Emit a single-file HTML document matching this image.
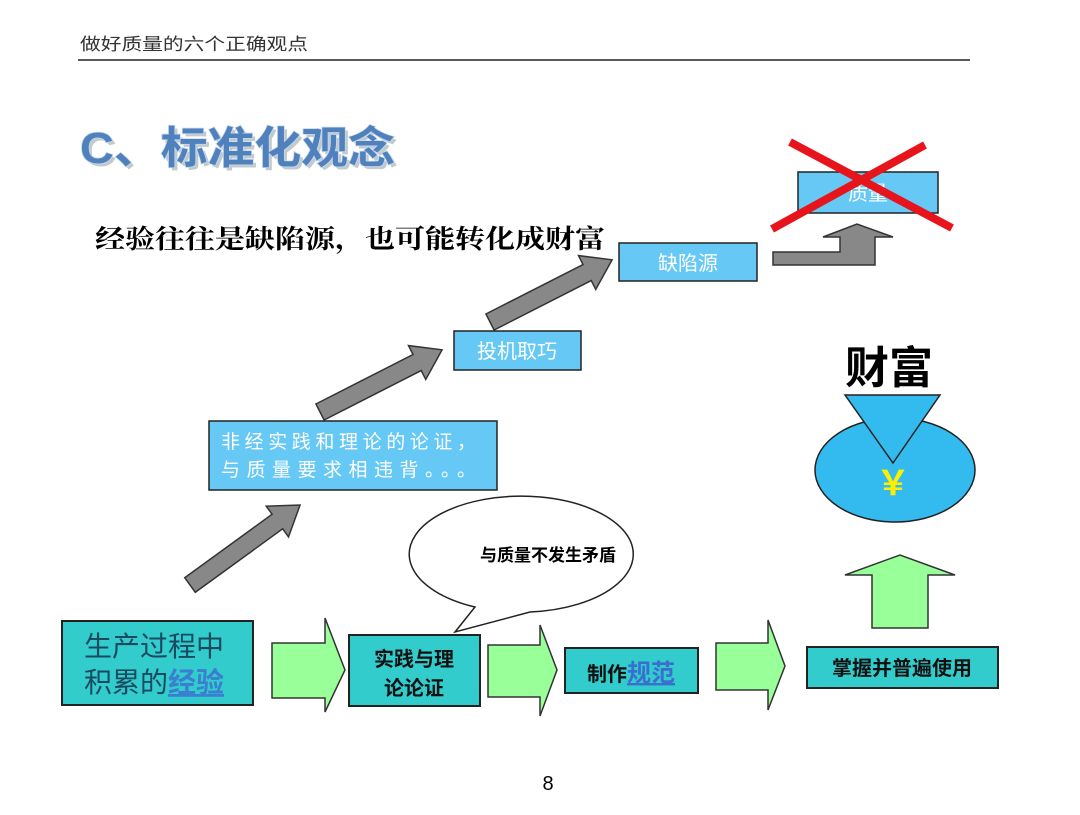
<!DOCTYPE html>
<html><head><meta charset="utf-8"><style>
html,body{margin:0;padding:0;background:#fff;}
svg text{font-family:"Liberation Sans","Noto Sans CJK SC",sans-serif;}
</style></head><body>
<svg width="1080" height="810" viewBox="0 0 1080 810" xmlns="http://www.w3.org/2000/svg">
<rect width="1080" height="810" fill="#fff"/>
<text x="80" y="50" font-size="17" fill="#333" textLength="228" lengthAdjust="spacingAndGlyphs">做好质量的六个正确观点</text>
<line x1="78" y1="60" x2="970" y2="60" stroke="#222" stroke-width="1.5"/>
<!-- title -->
<text x="83" y="166" font-size="44" font-weight="bold" fill="#9aa" opacity="0.6" textLength="315" lengthAdjust="spacingAndGlyphs">C、标准化观念</text>
<text x="80" y="163" font-size="44" font-weight="bold" fill="#4f81bd" stroke="#c8d8ee" stroke-width="1.5" paint-order="stroke" textLength="315" lengthAdjust="spacingAndGlyphs">C、标准化观念</text>
<text x="95" y="248" font-size="26" font-weight="bold" fill="#000" style="font-family:'Liberation Serif','Noto Serif CJK SC',serif" textLength="510" lengthAdjust="spacingAndGlyphs">经验往往是缺陷源，也可能转化成财富</text>

<!-- gray diagonal arrows -->
<g fill="#888" stroke="#333" stroke-width="1.5">
<polygon transform="translate(190,585) rotate(-36)" points="0,-9 108,-9 108,-19 136,0 108,19 108,9 0,9"/>
<polygon transform="translate(320,412) rotate(-27)" points="0,-9 109,-9 109,-19 137,0 109,19 109,9 0,9"/>
<polygon transform="translate(490,322) rotate(-27)" points="0,-9 109,-9 109,-19 137,0 109,19 109,9 0,9"/>
<polygon points="773,252 840,252 840,237 823,237 857,224 893,237 875,237 875,265 773,265"/>
</g>

<!-- blue boxes -->
<g fill="#66c8f5" stroke="#222" stroke-width="1.5">
<rect x="798" y="172" width="140" height="41"/>
<rect x="619" y="243" width="138" height="38"/>
<rect x="454" y="331" width="127" height="39"/>
<rect x="209" y="421" width="288" height="69"/>
</g>
<g fill="#fff" font-size="20" text-anchor="middle">
<text x="868" y="200">质量</text>
<text x="688" y="270">缺陷源</text>
<text x="517" y="358">投机取巧</text>
</g>
<text x="221" y="448" font-size="19" fill="#fff" textLength="255">非经实践和理论的论证，</text>
<text x="221" y="476" font-size="19" fill="#fff" textLength="255">与质量要求相违背。。。</text>

<!-- red X -->
<g stroke="#e8141c" stroke-width="8" stroke-linecap="butt">
<line x1="790" y1="142" x2="952" y2="228"/>
<line x1="772" y1="229" x2="925" y2="145"/>
</g>

<!-- wealth -->
<text x="845" y="383" font-size="44" font-weight="bold" fill="#000">财富</text>
<ellipse cx="895" cy="470" rx="80" ry="52" fill="#33bbf0" stroke="#222" stroke-width="1.5"/>
<polygon points="845,395 940,395 893,463" fill="#33bbf0" stroke="#222" stroke-width="1.5"/>
<text x="893" y="495" font-size="34" font-weight="bold" fill="#ffee00" text-anchor="middle">￥</text>

<!-- speech bubble -->
<path d="M 475,607 A 112 58 0 1 1 530,612 L 455,632 Z" fill="#fff" stroke="#222" stroke-width="1.5"/>
<text x="548" y="561" font-size="17" font-weight="bold" text-anchor="middle">与质量不发生矛盾</text>

<!-- green arrows -->
<g fill="#99ff99" stroke="#333" stroke-width="1.5">
<polygon points="272,643 325,643 325,618 345,670 325,712 325,698 272,698"/>
<polygon points="488,645 540,645 540,625 557,670 540,716 540,697 488,697"/>
<polygon points="716,643 768,643 768,620 785,666 768,710 768,690 716,690"/>
<polygon points="872,628 872,575 845,575 900,555 955,575 928,575 928,628"/>
</g>

<!-- teal boxes -->
<g fill="#33cccc" stroke="#222" stroke-width="2">
<rect x="62" y="621" width="191" height="84"/>
<rect x="349" y="635" width="131" height="71"/>
<rect x="565" y="648" width="133" height="45"/>
<rect x="807" y="647" width="191" height="41"/>
</g>
<text x="84" y="656" font-size="28" fill="#1a4a60">生产过程中</text>
<text x="84" y="692" font-size="28" fill="#1a4a60">积累的<tspan fill="#3a7fd0" font-weight="bold" text-decoration="underline">经验</tspan></text>
<g font-weight="bold" text-anchor="middle" fill="#111" font-size="20">
<text x="414" y="666">实践与理</text>
<text x="414" y="695">论论证</text>
<text x="631" y="681">制作<tspan fill="#3a6fd0" font-size="24" text-decoration="underline">规范</tspan></text>
<text x="902" y="675">掌握并普遍使用</text>
</g>

<text x="548" y="790" font-size="20" text-anchor="middle">8</text>
</svg>
</body></html>
